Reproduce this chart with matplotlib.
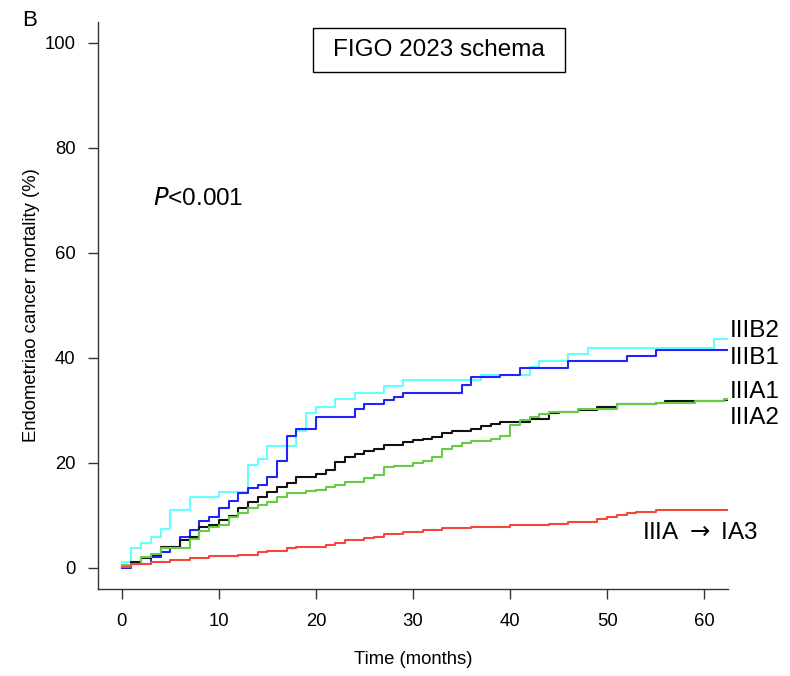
import matplotlib
matplotlib.use("Agg")
import matplotlib.pyplot as plt
from matplotlib.patches import Rectangle

plt.rcParams['font.family'] = ['Liberation Sans', 'DejaVu Sans']

# step curves: event month -> cumulative mortality (%)
iiib2_t = [0, 1, 2, 3, 4, 5, 7, 10, 13, 14, 15, 18, 19, 20, 22, 24, 27, 29, 37, 42, 43, 46, 48, 61, 62.4]
iiib2_v = [1.1, 3.7, 4.8, 5.8, 7.3, 11.0, 13.4, 14.5, 19.6, 20.8, 23.2, 26.0, 29.5, 30.7, 32.1, 33.2, 34.6, 35.7,
           36.8, 38.3, 39.4, 40.7, 41.9, 43.5, 43.5]

iiib1_t = [0, 1, 3, 4, 5, 6, 7, 8, 9, 10, 11, 12, 13, 14, 15, 16, 17, 18, 20, 24, 25, 27, 28, 29, 35, 36, 39,
           41, 46, 52, 55, 62.4]
iiib1_v = [0.0, 0.7, 2.1, 3.0, 3.9, 5.9, 7.2, 8.9, 9.6, 11.3, 12.7, 14.3, 15.1, 15.8, 17.3, 20.4, 25.0, 26.4,
           28.8, 30.2, 31.1, 31.9, 32.6, 33.3, 34.8, 36.3, 36.7, 38.0, 39.4, 40.3, 41.5, 41.5]

iiia1_t = [0, 1, 2, 3, 4, 6, 7, 8, 9, 10, 11, 12, 13, 14, 15, 16, 17, 18, 19, 20, 21, 22, 23, 24, 25, 26, 27,
           29, 30, 31, 32, 33, 34, 36, 37, 38, 39, 42, 44, 45, 47, 49, 51, 55, 56, 62, 62.4]
iiia1_v = [0.2, 1.1, 1.8, 2.4, 3.9, 5.3, 5.9, 7.8, 8.1, 9.1, 9.8, 11.4, 12.5, 13.4, 14.5, 15.3, 16.2, 17.2,
           17.3, 17.8, 18.6, 20.2, 21.1, 21.7, 22.3, 22.7, 23.4, 24.0, 24.3, 24.6, 24.9, 25.7, 26.0, 26.5,
           26.9, 27.3, 27.8, 28.3, 29.4, 29.7, 30.0, 30.6, 31.1, 31.4, 31.8, 31.9, 31.9]

iiia2_t = [0, 1, 2, 3, 4, 7, 8, 9, 10, 11, 12, 13, 14, 15, 16, 17, 19, 20, 21, 22, 23, 25, 26, 27, 28, 30, 31,
           32, 33, 34, 35, 36, 38, 39, 40, 41, 42, 43, 44, 47, 51, 55, 59, 62, 62.4]
iiia2_v = [0.5, 0.8, 2.1, 2.7, 3.7, 5.5, 6.9, 7.8, 8.1, 9.7, 10.5, 11.4, 11.9, 12.6, 13.4, 14.2, 14.6, 14.8,
           15.3, 15.8, 16.4, 17.1, 17.7, 19.1, 19.4, 19.9, 20.4, 21.1, 22.7, 23.2, 23.7, 24.1, 24.6, 25.1,
           27.2, 28.1, 28.8, 29.2, 29.7, 30.2, 31.1, 31.3, 31.8, 32.1, 32.1]

ia3_t = [0, 1, 3, 5, 7, 9, 12, 14, 15, 17, 18, 21, 22, 23, 25, 26, 27, 29, 31, 33, 36, 40, 44, 46, 49, 50, 51,
         52, 53, 55, 62.4]
ia3_v = [0.2, 0.7, 1.1, 1.5, 1.8, 2.2, 2.5, 2.9, 3.2, 3.7, 4.0, 4.3, 4.8, 5.3, 5.6, 5.9, 6.4, 6.8, 7.2, 7.5,
         7.8, 8.1, 8.3, 8.8, 9.2, 9.7, 10.0, 10.4, 10.7, 11.0, 11.0]

series = [
    (iiib2_t, iiib2_v, '#66FFFF'),
    (iiib1_t, iiib1_v, '#2222FF'),
    (iiia1_t, iiia1_v, '#111111'),
    (iiia2_t, iiia2_v, '#66CC44'),
    (ia3_t, ia3_v, '#F5483C'),
]

fig = plt.figure(figsize=(7.9, 6.76), dpi=100)
ax = fig.add_axes([98.4 / 790, 1 - 588.7 / 676, 629.2 / 790, 567.0 / 676])

for t, v, c in series:
    ax.step(t, v, where='post', color=c, lw=1.5)

ax.set_xlim(-2.4, 62.4)
ax.set_ylim(-4, 104)
ax.set_xticks([0, 10, 20, 30, 40, 50, 60])
ax.set_yticks([0, 20, 40, 60, 80, 100])
for s in ['top', 'right']:
    ax.spines[s].set_visible(False)
for s in ['left', 'bottom']:
    ax.spines[s].set_color('#333333')
    ax.spines[s].set_linewidth(1.0)
ax.tick_params(axis='both', direction='out', length=7.5, width=1.0, color='#333333',
               labelsize=13.3, pad=9)
ax.tick_params(axis='x', pad=10)

ax.set_xlabel('Time (months)', fontsize=13.3, labelpad=15)
ax.set_ylabel('Endometriao cancer mortality (%)', fontsize=13.3, labelpad=3)

lab = dict(fontsize=17.5, va='center', ha='left', clip_on=False)
ax.text(62.6, 45.0, 'IIIB2', **lab)
ax.text(62.6, 40.0, 'IIIB1', **lab)
ax.text(62.6, 33.5, 'IIIA1', **lab)
ax.text(62.6, 28.6, 'IIIA2', **lab)
ax.text(53.6, 6.6, r'IIIA $\rightarrow$ IA3', **lab)

ax.text(3.2, 70.2, r'$\it{P}$<0.001', fontsize=17.5, va='center', ha='left')

# title box
fig.patches.append(Rectangle((313 / 790, 1 - 72 / 676), 252 / 790, 44 / 676,
                             transform=fig.transFigure, fc='white', ec='black', lw=1.0))
fig.text(439 / 790, 1 - 50 / 676, 'FIGO 2023 schema', fontsize=17.5, va='center', ha='center')

fig.text(30 / 790, 1 - 20 / 676, 'B', fontsize=16, va='center', ha='center')

fig.savefig('out.png', dpi=100)
